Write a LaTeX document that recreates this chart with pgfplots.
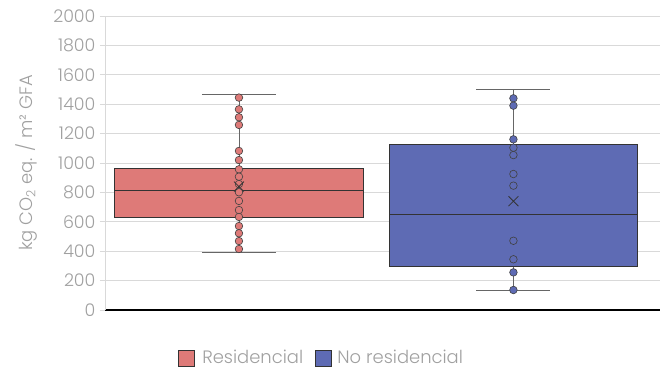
\documentclass[border=0pt]{standalone}
\usepackage{pgfplots}
\pgfplotsset{compat=1.18}
\usepgfplotslibrary{statistics}
\usepackage{fontspec}
\setmainfont{Poppins}[UprightFont=* Light]
\definecolor{redc}{HTML}{DE7A78}
\definecolor{bluec}{HTML}{5E6BB4}
\definecolor{boxedge}{HTML}{333333}
\definecolor{whisk}{HTML}{666666}
\definecolor{ptedge}{HTML}{404040}
\definecolor{gridc}{HTML}{D9D9D9}
\definecolor{txtc}{HTML}{A0A0A0}
\begin{document}
\begin{tikzpicture}
\useasboundingbox (-105bp,-61bp) rectangle (555bp,310bp);
\begin{axis}[
  at={(0,0)}, anchor=south west,
  scale only axis, width=555bp, height=294bp,
  xmin=-0.488, xmax=1.534,
  ymin=0, ymax=2000,
  ytick distance=200,
  xtick=\empty,
  ymajorgrids, grid style={gridc, line width=0.9bp},
  separate axis lines,
  axis x line*=bottom, axis y line*=left,
  x axis line style={black, line width=1.1bp, -},
  y axis line style={gridc, line width=0.9bp, -},
  major tick length=5bp,
  ytick style={gridc, line width=0.9bp},
  ytick align=outside,
  yticklabel style={font=\fontsize{17.5}{19}\selectfont, text=txtc, xshift=-1bp},
  /pgf/number format/assume math mode=true,
  /pgf/number format/1000 sep={},
  boxplot/draw direction=y,
  ylabel={kg CO\textsubscript{2} eq. / m² GFA},
  ylabel style={at={(axis description cs:-0.142,0.5)}, anchor=center, font=\fontsize{18}{20}\selectfont, text=txtc},
  legend style={at={(0.39,-0.163)}, anchor=center, draw=none, fill=none,
    legend columns=2, font=\fontsize{18}{20}\selectfont, text=txtc,
    /tikz/every even column/.append style={column sep=10bp}},
  legend entries={Residencial, No residencial},
]
\addlegendimage{legend image code/.code={\draw[fill=redc, draw=boxedge, line width=0.6bp] (0bp,-8bp) rectangle (16bp,8bp); \path[draw=none] (0bp,0bp) -- (22bp,0bp);}}
\addlegendimage{legend image code/.code={\draw[fill=bluec, draw=boxedge, line width=0.6bp] (0bp,-8bp) rectangle (16bp,8bp); \path[draw=none] (0bp,0bp) -- (20bp,0bp);}}

% Residencial box
\addplot[forget plot, draw=boxedge, line width=0.8bp, solid,
  boxplot prepared={lower whisker=395, lower quartile=630, median=815,
    upper quartile=965, upper whisker=1465,
    draw position=0, box extend=0.905, whisker extend=0.27,
    every box/.style={fill=redc, draw=boxedge, line width=0.8bp},
    every whisker/.style={draw=whisk, line width=0.8bp},
    every median/.style={draw=boxedge, line width=0.8bp}}]
  coordinates {};
% No residencial box
\addplot[forget plot, draw=boxedge, line width=0.8bp, solid,
  boxplot prepared={lower whisker=130, lower quartile=300, median=650,
    upper quartile=1125, upper whisker=1500,
    draw position=1, box extend=0.905, whisker extend=0.27,
    every box/.style={fill=bluec, draw=boxedge, line width=0.8bp},
    every whisker/.style={draw=whisk, line width=0.8bp},
    every median/.style={draw=boxedge, line width=0.8bp}}]
  coordinates {};

% Residencial points
\addplot[forget plot, only marks, mark=*, mark size=3.8bp,
  mark options={fill=redc, draw=ptedge, line width=0.6bp}] table {
x y
0 1445
0 1365
0 1311
0 1259
0 1082
0 1020
0 957
0 907
0 857
0 801
0 742
0 680
0 633
0 571
0 522
0 469
0 415
};
% No residencial points
\addplot[forget plot, only marks, mark=*, mark size=3.8bp,
  mark options={fill=bluec, draw=ptedge, line width=0.6bp}] table {
x y
1 1440
1 1390
1 1161
1 1104
1 1054
1 925
1 846
1 471
1 345
1 256
1 136
};
% means
\addplot[forget plot, only marks, mark=x, mark size=7bp,
  mark options={draw=boxedge, line width=0.8bp}] coordinates {(0,840) (1,740)};
\end{axis}
\end{tikzpicture}
\end{document}
